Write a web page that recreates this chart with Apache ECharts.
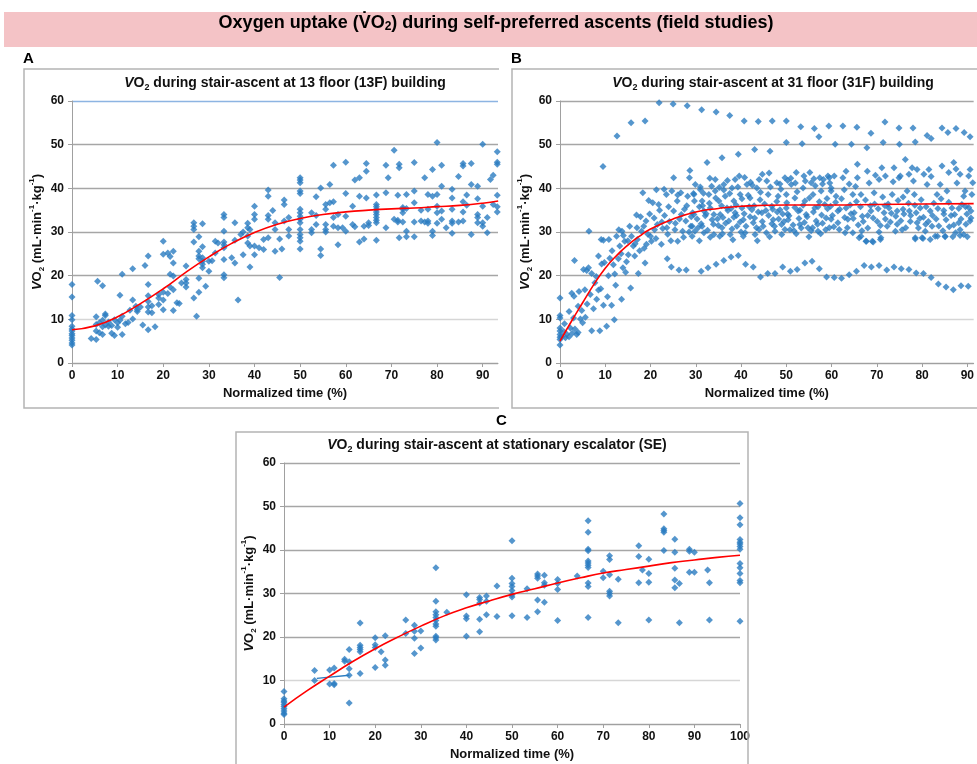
<!DOCTYPE html>
<html><head><meta charset="utf-8">
<script src="https://cdn.jsdelivr.net/npm/echarts@6/dist/echarts.min.js"></script>
<style>html,body{margin:0;padding:0;background:#fff}#c{width:977px;height:764px}</style>
</head><body><div id="c"></div>
<script>
// ---------- data ----------
const yTicks = [0, 10, 20, 30, 40, 50, 60];
const xTitle = 'Normalized time (%)';

// Panel A: 13F building
const ptsA = [
[0,18.0],[0,15.1],[0,10.9],[0,9.9],[0,8.4],[0,7.8],[0,7.3],[0,6.7],[0,6.3],[0,5.7],[0,5.2],[0,4.6],[0,4.1],
[4.2,5.6],[5.3,8.8],[5.3,10.6],[5.3,7.3],[5.3,5.4],[5.6,18.7],[6,9.2],[6,6.9],[6.7,17.7],[6.7,9.8],[6.7,8.3],[6.7,6.5],[7.3,11.2],[7.3,10.9],[7.3,8.7],[8,9.4],[8,8.4],[8.7,6.8],[8.7,8.6],[9.3,6.3],[9.3,9.9],[10,9.2],[10,8.2],[10.5,15.5],[10.5,9.8],[11,20.3],[11,6.5],[11,10.7],[11.7,9.0],[12.3,9.3],[12.7,12.1],[13.3,21.6],[13.3,14.4],[13.3,10.1],[14,13.0],[14.3,12.2],[14.3,11.8],[15,12.8],[15.5,8.7],[16,22.3],[16.7,24.5],[16.7,18.0],[16.7,15.4],[16.7,14.1],[16.7,12.8],[16.7,11.7],[16.7,7.6],[17.5,13.1],[17.5,11.5],[18.2,8.3],[19,15.7],[19,14.9],[19,13.4],[20,27.9],[20,24.9],[20,16.2],[20,14.4],[20,12.2],[21,25.2],[21,15.9],[21.5,24.4],[21.5,20.3],[21.5,17.4],[22.2,25.6],[22.2,22.9],[22.2,19.9],[22.2,16.8],[22.2,12.0],[23,13.8],[23.5,13.6],[24,18.3],[25,22.2],[25,19.1],[25,18.3],[25,17.4],[26.7,32.1],[26.7,31.3],[26.7,30.6],[26.7,27.7],[26.7,14.9],[27.3,10.7],[27.8,28.9],[27.8,25.6],[27.8,24.5],[27.8,23.9],[27.8,19.4],[27.8,16.2],[28.6,31.9],[28.6,26.6],[28.6,24.1],[28.6,23.3],[28.6,22.6],[28.6,21.8],[29.3,17.6],[30,23.3],[30,21.0],[30.7,23.4],[31.4,25.2],[31.4,27.9],[32,27.5],[33.3,34.0],[33.3,33.3],[33.3,30.2],[33.3,27.7],[33.3,27.1],[33.3,26.4],[33.3,23.7],[33.3,20.2],[33.3,19.5],[35,24.1],[35.7,32.1],[35.7,28.1],[35.7,22.9],[36.4,14.4],[37,29.4],[37.5,30.0],[37.5,24.8],[38.5,32.0],[38.5,31.0],[38.5,29.1],[38.5,27.5],[39,30.6],[39,26.8],[39,22.0],[40,35.9],[40,34.0],[40,32.9],[40,26.8],[40,24.8],[41,26.4],[42,28.3],[42,26.0],[43,39.6],[43,38.2],[43,33.8],[43,32.9],[43,28.7],[44,34.9],[44.5,32.1],[44.5,30.6],[44.5,25.6],[45.5,19.6],[45.5,28.4],[46,26.1],[46.5,37.3],[46.5,36.3],[46.5,32.5],[47.5,33.3],[47.5,30.6],[47.5,29.1],
[50,42.4],[50,41.9],[50,41.3],[50,39.4],[50,38.8],[50,35.2],[50,34.4],[50,33.6],[50,32.9],[50,32.1],[50,30.6],[50,29.4],[50,28.7],[50,27.9],[50,26.1],
[52.5,34.4],[52.5,30.6],[52.5,29.8],[53.5,38.1],[53.5,33.8],[53.5,31.7],[54.5,40.1],[54.5,26.1],[54.5,24.6],[55.6,36.3],[55.6,35.2],[55.6,31.7],[55.6,30.6],[55.6,30.0],[56.5,40.9],[56.5,36.7],[57.3,45.3],[57.3,36.9],[57.3,33.3],[57.3,31.3],[58.3,34.0],[58.3,31.0],[58.3,27.1],[59.3,31.0],[60,46.0],[60,38.8],[60,33.6],[60,30.2],[61.5,35.9],[61.5,31.7],[62,41.9],[62,31.2],[63,42.4],[63,38.2],[63,27.7],[64,31.3],[64,28.4],[64.5,45.7],[64.5,43.9],[64.5,37.8],[65,32.1],[65,31.5],
[66.7,38.5],[66.7,36.3],[66.7,35.8],[66.7,35.2],[66.7,34.6],[66.7,34.0],[66.7,33.3],[66.7,32.7],[66.7,32.1],[66.7,28.1],
[68.8,45.3],[68.8,39.0],[68.8,31.0],[69.3,42.4],[70.6,48.7],[70.6,32.9],[71.4,38.4],[71.4,32.7],[71.4,32.3],[71.7,45.5],[71.7,44.7],[71.7,28.7],[72.5,35.6],[72.5,35.2],[72.5,34.4],[72.5,32.3],[73.3,38.6],[73.3,35.4],[73.3,30.2],[73.3,28.9],[75,45.9],[75,39.4],[75,36.7],[75,32.3],[75,28.9],[76.5,35.0],[76.5,32.5],[77.3,42.4],[77.3,32.3],[78,38.6],[78,35.2],[78,32.5],[78,32.0],[79,44.3],[79,38.2],[79,30.2],[79,29.2],[80,50.5],[80,38.6],[80,35.9],[80,34.4],[80,32.0],[81,45.3],[81,40.5],[81,34.8],[81,32.9],[82,31.0],[83.3,39.8],[83.3,37.8],[83.3,35.2],[83.3,32.5],[83.3,32.0],[83.3,29.7],[84.7,42.7],[84.7,32.3],[85.7,45.7],[85.7,45.1],[85.7,36.9],[85.7,34.6],[85.7,32.5],[86.5,38.5],[86.5,36.1],[87.5,45.7],[87.5,40.9],[87.5,29.4],[88.9,40.5],[88.9,37.6],[88.9,34.0],[88.9,33.3],[88.9,32.1],[90,50.1],[90,31.3],[90,32.1],[90,35.9],[91,33.3],[91,29.8],[91.7,42.0],[92.3,43.0],[92.3,36.3],[93.2,48.4],[93.2,46.0],[93.2,45.5],[93.2,38.4],[93.2,35.8],[93.2,34.6]
];
const trendA = [[0,7.6],[5,8.5],[10,10.6],[15,13.6],[20,17.0],[25,20.8],[30,24.3],[35,27.4],[40,29.9],[45,31.8],[50,33.1],[55,34.0],[60,34.6],[65,35.0],[70,35.3],[75,35.5],[80,35.8],[85,36.1],[90,36.6],[93.4,37.1]];

// Panel B: 31F building
const ptsB = [
[0,14.9],[0,10.9],[0,10.3],[0,8.0],[0,7.3],[0,6.5],[0,5.9],[0,5.4],[0,4.1],
[0.4,6.0],[0.8,7.2],[1.2,5.8],[1.5,6.6],[2.0,6.0],[2.3,8.0],[2.6,16.0],[2.7,6.8],[3.1,15.3],[3.2,23.5],[3.3,7.8],[3.7,6.5],[4.0,7.0],[4.2,16.4],[4.5,10.1],[4.8,12.0],[5.2,21.4],[5.6,10.5],[5.9,21.2],[6.3,21.8],[6.4,30.2],[6.7,15.7],[7.0,7.4],[7.4,12.4],[7.7,18.4],[8.1,14.6],[8.5,16.7],[8.8,7.4],[9.1,28.3],[9.2,22.7],[9.5,45.0],[9.6,13.2],[9.6,28.1],[10.3,8.4],[10.7,20.0],[10.8,28.3],[11.4,13.2],[11.5,25.7],[12.0,9.9],[12.1,20.4],[12.5,29.0],[12.6,52.0],[12.9,23.9],[13.2,26.8],[13.6,14.6],[13.7,30.2],[13.9,21.8],[14.3,27.9],[14.7,23.2],[15.1,24.8],[15.4,31.3],[15.6,17.2],[15.7,55.0],[16.2,26.8],[16.5,24.5],[16.9,33.9],[17.1,28.3],[17.3,20.5],[17.6,25.7],[18.0,30.2],[18.3,39.0],[18.5,31.3],[18.8,22.9],[18.8,55.4],[19.1,27.2],[19.4,29.5],[19.8,34.1],[20.2,27.9],[20.5,36.7],[20.9,30.5],[21.3,39.7],[21.5,31.7],[21.8,36.3],[21.9,59.6],[22.4,27.2],[22.7,30.8],[23.1,33.8],[23.5,38.6],[23.7,23.9],[23.8,29.5],[24.2,32.4],[24.6,22.0],[24.7,39.4],[25.0,59.3],[25.1,34.8],[25.1,42.4],[25.4,30.5],[25.9,37.1],[26.0,27.9],[26.3,21.3],[26.4,33.0],[26.7,39.0],[27.1,30.2],[27.5,35.2],[27.8,32.5],[27.9,21.3],[28.1,58.9],[28.2,38.2],[28.6,42.4],[28.7,44.1],[28.9,31.3],[29.3,34.4],[29.7,37.1],[29.8,30.2],
[1.0,9.0],[2.0,11.8],[3.0,10.3],[4.0,13.0],[5.0,9.2],[5.5,16.8],[6.0,13.5],[7.0,20.5],[8.0,19.8],[8.5,24.5],[9.0,17.0],[9.8,23.0],[10.5,15.2],[11.0,24.0],[11.8,22.5],[12.3,17.8],[13.0,30.5],[13.5,25.0],[14.0,29.2],[14.5,20.8],[15.0,28.0],[15.8,29.0],[16.6,27.3],[17.0,31.0],[17.8,33.5],[18.6,26.3],[19.0,32.5],[19.6,37.2],[20.0,29.0],[20.8,33.2],[21.2,28.5],[22.0,35.0],[22.5,32.3],[23.0,39.8],[23.6,31.0],[24.0,35.8],[24.5,28.0],[25.5,32.0],[26.0,38.5],[26.8,34.0],[27.3,28.8],[28.0,36.0],[28.5,30.0],[29.0,33.5],[29.5,38.8],
[29.6,38.6],[29.6,34.0],[29.2,31.3],[29.2,29.0],[29.9,40.9],[31.0,39.7],[31.4,37.1],[31.8,34.8],[31.4,31.3],[31.8,29.8],[32.5,45.9],[32.9,38.6],[33.2,35.5],[33.6,32.8],[34.0,29.4],[34.3,42.0],[34.3,39.4],[35.1,37.1],[35.4,34.0],[35.8,47.0],[35.8,31.0],[36.2,40.9],[36.5,38.2],[36.9,35.5],[37.3,32.5],[37.6,29.4],[38.0,40.1],[38.4,37.1],[38.7,34.4],[39.1,31.3],[39.4,47.8],[39.6,42.8],[39.8,38.6],[40.2,35.5],[40.5,32.8],[40.9,29.8],[41.3,40.9],[42.0,37.8],[42.4,35.1],[42.7,32.1],[43.1,29.4],[43.5,40.1],[44.2,37.4],[44.6,34.4],[44.7,43.2],[44.9,31.3],[45.7,41.7],[46.0,38.6],[46.4,48.5],[46.8,35.9],[47.1,32.8],[47.5,30.2],[47.9,41.3],[48.2,38.2],[48.6,35.1],[48.95,31.7],[49.7,42.4],[50.0,38.6],[50.0,35.5],[50.4,32.8],[50.8,30.5],[51.1,40.9],[51.9,37.8],[52.2,43.6],[52.6,34.8],[53.0,31.7],[53.7,40.1],[54.1,37.1],[54.4,34.0],[54.8,31.0],[55.2,43.6],[55.5,41.3],[55.9,38.6],[56.3,35.5],[56.6,32.5],[57.0,30.2],[57.4,42.4],[57.7,39.4],[58.5,36.3],[58.8,33.2],[59.2,42.8],[59.5,31.0],[59.9,40.1],
[31.3,58.0],[34.5,57.5],[37.5,56.7],[40.7,55.4],[43.8,55.3],[46.9,55.4],[50.0,55.4],[53.2,54.1],[56.2,53.7],[59.4,54.3],[62.5,54.3],[65.6,54.0],[68.7,52.6],[71.8,55.2],[74.9,53.8],[78.0,53.8],[81.1,52.1],[82.0,51.4],[84.4,53.8],[85.7,52.8],[87.5,53.7],[89.3,52.8],[90.6,51.8],
[43.0,48.9],[50.0,50.5],[53.5,50.2],[57.2,51.8],[60.8,50.1],[64.4,50.1],[67.8,49.3],[71.4,50.5],[75.0,50.1],[78.5,50.6],
[31.2,21.0],[32.7,21.8],[34.5,22.6],[36.2,23.5],[37.8,24.3],[39.4,24.6],[41.0,22.6],[42.7,22.0],[44.3,19.7],[45.9,20.5],[47.5,20.5],[49.2,22.0],[50.9,21.0],[52.4,21.4],[54.1,22.9],[55.7,23.3],[57.3,21.6],[58.9,19.7],[60.6,19.6],[62.2,19.4],[63.9,20.2],[65.5,21.0],[67.2,22.3],[68.8,22.0],[70.5,22.3],[72.2,21.3],[73.8,22.0],[75.4,21.6],[77.1,21.4],[78.7,20.6],[80.3,20.5],[82.0,19.6],[83.6,18.1],[85.3,17.4],[86.9,16.8],[88.6,17.7],[90.2,17.6],
[66.5,29.0],[67.7,27.9],[69.2,27.7],[70.8,28.3],[78.5,28.4],[80.2,28.5],[81.8,28.3],[83.4,29.0],[85.1,28.9],[86.8,28.9],[88.4,29.2],[90.0,28.9],
[59.5,42.4],[59.9,39.4],[59.8,35.9],[59.9,32.9],[60.6,42.8],[61.0,38.2],[61.4,34.8],[61.4,32.1],[62.5,42.4],[62.8,39.7],[63.2,43.9],[63.2,35.5],[63.6,32.9],[63.9,41.0],[64.7,29.8],[64.7,38.6],[65.0,34.4],[65.7,45.5],[65.7,42.4],[66.1,28.7],[66.5,38.6],[66.8,33.6],[67.6,27.9],[67.9,43.9],[68.3,41.2],[68.7,34.8],[69.0,27.9],[69.4,39.0],[70.1,32.4],[70.5,42.0],[70.9,28.7],[71.1,44.7],[71.6,34.4],[71.9,42.8],[72.3,31.3],[72.7,35.5],[73.4,38.6],[73.8,44.7],[74.1,30.2],[74.5,34.8],[74.9,42.4],[75.2,42.8],[75.6,30.5],[76.0,34.1],[76.3,46.6],[76.7,39.4],[77.1,43.2],[77.4,32.4],[77.8,44.7],[78.3,38.6],[78.5,28.7],[78.9,44.3],[78.9,32.1],[79.6,35.5],[80.0,28.7],[80.4,43.2],[80.7,30.2],[81.1,40.9],[81.5,44.3],[81.8,34.8],[82.2,31.3],[82.9,29.0],[83.3,38.6],[84.0,40.9],[84.4,45.1],[84.8,34.1],[85.1,29.0],[85.5,39.4],[85.9,43.6],[86.6,35.5],[87.0,45.9],[87.4,29.8],[87.7,41.2],[88.1,32.1],[88.4,43.2],[88.8,36.3],[89.2,29.4],[89.5,39.4],[89.9,34.1],[90.3,42.8],[90.6,44.3],[90.8,34.8],[91.0,38.6],
[30.3,33.0],[30.8,35.8],[31.2,31.9],[31.7,38.9],[32.1,33.7],[32.6,30.4],[33.0,36.6],[33.5,40.5],[33.9,31.8],[34.4,37.8],[34.8,33.0],[35.3,29.0],[35.7,36.0],[36.2,39.6],[36.6,32.0],[37.1,34.9],[37.5,38.8],[38.0,30.7],[38.4,33.4],[38.9,36.2],[39.3,40.3],[39.8,32.3],[40.2,37.6],[40.7,34.2],[41.1,31.3],[41.6,38.4],[42.0,33.5],[42.5,40.7],[42.9,36.0],[43.4,31.0],[43.8,34.6],[44.3,39.1],[44.7,32.4],[45.2,36.4],[45.6,29.8],[46.1,33.8],[46.5,40.3],[47.0,35.2],[47.4,31.3],[47.9,37.0],[48.3,33.0],[48.8,39.8],[49.2,34.1],[49.7,30.6],[50.1,36.7],[50.6,33.7],[51.0,42.3],[51.5,31.6],[51.9,35.6],[52.4,39.2],[52.8,33.1],[53.3,30.9],[53.7,36.1],[54.2,41.7],[54.6,33.5],[55.1,37.8],[55.5,30.3],[56.0,34.6],[56.4,40.6],[56.9,31.8],[57.3,36.9],[57.8,33.9],[58.2,42.0],[58.7,30.5],[59.1,35.3],
[30.5,31.0],[31.5,36.0],[32.3,34.2],[34.0,34.0],[35.0,31.5],[36.0,33.3],[37.8,35.4],[39.0,33.8],[40.0,30.0],[41.8,35.8],[43.0,33.2],[44.0,30.6],[45.5,34.9],[46.8,31.9],[48.0,34.6],[49.5,32.4],[50.3,34.1],[51.7,30.3],[53.0,35.0],[54.0,32.2],[55.8,31.0],[57.0,35.8],[58.0,32.0],[59.0,37.7],
[60.2,33.8],[60.9,36.8],[61.7,30.6],[62.2,37.6],[62.9,33.3],[63.5,31.0],[64.1,36.2],[64.8,33.1],[65.3,40.4],[65.9,31.6],[66.4,35.8],[67.0,32.4],[67.5,37.3],[68.0,30.9],[68.6,36.0],[69.2,33.2],[69.7,43.0],[70.3,35.3],[70.8,31.5],[71.3,38.0],[71.9,33.0],[72.5,36.4],[73.0,32.3],[73.6,41.5],[74.2,33.6],[74.7,37.2],[75.3,32.6],[75.8,35.2],[76.4,31.0],[77.0,36.6],[77.5,33.8],[78.1,41.7],[78.7,34.4],[79.2,30.9],[79.8,37.4],[80.3,33.4],[80.9,35.8],[81.4,32.4],[82.0,42.7],[82.6,36.6],[83.1,33.0],[83.7,31.4],[84.2,37.6],[84.8,34.9],[85.3,32.8],[85.9,36.8],[86.4,33.8],[87.0,31.6],[87.5,44.4],[88.1,35.4],[88.6,33.0],[89.2,38.2],[89.7,31.8],[90.3,35.6],[90.8,33.2],[91.2,41.3],
[60.5,31.2],[61.8,35.2],[63.0,29.8],[64.3,34.2],[65.5,37.0],[66.7,30.3],[68.0,33.8],[69.5,36.4],[70.5,30.0],[71.8,36.0],[73.2,34.3],[74.5,31.8],[75.8,38.0],[77.2,34.8],[78.4,36.1],[79.5,33.1],[80.8,31.8],[82.3,33.8],[83.5,35.4],[84.6,30.3],[86.0,31.2],[87.2,34.0],[88.4,30.5],[89.6,35.8],[90.6,32.5],
[31.0,40.3],[33.1,42.3],[35.2,40.2],[37.0,41.8],[38.7,42.0],[40.8,42.5],[42.1,41.4],[44.0,42.0],[46.2,43.5],[48.6,41.0],[50.3,41.8],[52.0,41.2],[53.9,42.8],[56.1,42.2],[58.0,41.0],[59.6,41.2],
[30.8,28.0],[33.2,28.8],[35.9,29.6],[38.2,28.2],[40.5,29.0],[43.6,28.0],[46.3,28.9],[49.0,29.4],[52.2,29.6],[55.0,28.9],[57.6,29.6]
];
const trendB = [[0,5.0],[2.5,9.5],[5,13.8],[7.5,18.0],[10,21.7],[12.5,24.6],[15,27.0],[17.5,29.0],[20,30.7],[25,33.0],[30,34.6],[35,35.4],[40,35.9],[50,36.2],[60,36.2],[70,36.3],[80,36.4],[91.4,36.5]];

// Panel C: stationary escalator
const ptsC = [
[0,7.5],[0,5.8],[0,5.3],[0,5.0],[0,4.5],[0,4.0],[0,3.5],[0,3.0],[0,2.5],[0,2.2],
[6.7,12.3],[6.7,10.0],[10,12.4],[10,9.2],[11,12.9],[11,9.3],[11,9.0],[13.3,14.9],[13.3,14.4],[14.3,17.1],[14.3,14.3],[14.3,12.7],[14.3,11.2],[14.3,4.8],
[16.7,23.2],[16.7,18.1],[16.7,17.6],[16.7,17.1],[16.7,16.6],[16.7,11.6],[20,19.8],[20,18.2],[20,17.6],[20,13.0],[21.3,16.6],[22.2,20.3],[22.2,14.7],[22.2,13.5],
[26.7,23.9],[26.7,20.8],[28.6,22.7],[28.6,21.3],[28.6,19.7],[28.6,16.2],[30,21.4],[30,17.5],
[33.3,35.9],[33.3,28.2],[33.3,25.8],[33.3,25.1],[33.3,24.5],[33.3,23.8],[33.3,23.0],[33.3,22.5],[33.3,20.2],[33.3,19.8],[33.3,19.3],[35.7,25.7],
[40,29.7],[40,24.8],[40,24.2],[40,20.2],[42.9,29.1],[42.9,28.6],[42.9,27.8],[42.9,24.1],[42.9,21.2],[44.4,29.4],[44.4,28.2],[44.4,25.1],[46.7,31.7],[46.7,24.7],
[50,42.1],[50,33.5],[50,32.3],[50,31.6],[50,30.7],[50,29.7],[50,29.2],[50,24.9],[53.3,31.1],[53.3,24.5],[55.6,34.5],[55.6,34.0],[55.6,33.5],[55.6,28.5],[55.6,25.8],
[57.1,34.2],[57.1,32.5],[57.1,31.9],[57.1,28.0],[60,33.2],[60,32.3],[60,30.9],[60,23.8],[64.3,34.0],
[66.7,46.7],[66.7,44.1],[66.7,40.2],[66.7,39.8],[66.7,37.5],[66.7,37.0],[66.7,36.5],[66.7,36.0],[66.7,32.4],[66.7,31.6],[66.7,24.5],
[70,35.1],[70,33.6],[71.4,38.7],[71.4,37.8],[71.4,34.3],[71.4,30.5],[71.4,30.0],[71.4,29.4],[73.3,33.3],[73.3,23.3],
[77.8,41.0],[77.8,38.5],[77.8,32.5],[78.6,35.4],[80,37.9],[80,34.6],[80,32.6],[80,23.9],
[83.3,48.3],[83.3,44.9],[83.3,44.5],[83.3,44.1],[83.3,39.9],[85.7,42.5],[85.7,39.5],[85.7,35.8],[85.7,33.1],[85.7,31.3],[86.7,32.3],[86.7,23.3],
[88.9,40.2],[88.9,39.7],[88.9,34.9],[90,39.5],[90,34.9],[92.9,35.4],[93.3,32.5],[93.3,23.9],
[100,50.7],[100,47.4],[100,45.8],[100,42.4],[100,41.8],[100,41.4],[100,40.8],[100,40.2],[100,36.9],[100,35.9],[100,34.6],[100,33.0],[100,32.5],[100,23.6]
];
const segC = [[7.2,10.5],[14.3,11.2]];
const trendC = [[0,3.9],[5,7.6],[10,11.0],[15,14.3],[20,17.3],[25,20.0],[30,22.5],[35,24.8],[40,26.7],[45,28.3],[50,29.8],[55,31.1],[60,32.4],[65,33.6],[70,34.7],[75,35.5],[80,36.3],[85,37.1],[90,37.7],[95,38.3],[100,38.8]];

// ---------- chart ----------
const FONT = '"Liberation Sans", Arial, sans-serif';
const BLUE = '#2a7cc0';
function richSet(size) {
  return {
    n: {fontFamily: FONT, fontWeight: 'bold', fontSize: size, color: '#111', lineHeight: size + 5, verticalAlign: 'middle'},
    i: {fontFamily: FONT, fontWeight: 'bold', fontStyle: 'italic', fontSize: size, color: '#111', lineHeight: size + 5, verticalAlign: 'middle'},
    sub: {fontFamily: FONT, fontWeight: 'bold', fontSize: Math.round(size * 0.65), color: '#111', lineHeight: Math.round(size * 0.65), verticalAlign: 'bottom'},
    sup: {fontFamily: FONT, fontWeight: 'bold', fontSize: Math.round(size * 0.6), color: '#111', lineHeight: Math.round(size * 0.65), verticalAlign: 'top'}
  };
}
const richAxis = richSet(13);
const richTitle = richSet(14);
const yName = '{i|V}{n|O}{sub|2}{n| (mL·min}{sup|-1}{n|·kg}{sup|-1}{n|)}';

const grids = [
  {left: 72, top: 101, width: 426, height: 262},
  {left: 560, top: 101, width: 417, height: 262},
  {left: 284, top: 463, width: 456, height: 261}
];
const xMax = [93.36, 91.4, 100];
const gridColors = [
  ['#a6a6a6','#d6d6d6','#a6a6a6','#a6a6a6','#a6a6a6','#a6a6a6','#8db4e2'],
  ['#a6a6a6','#d6d6d6','#a6a6a6','#a6a6a6','#a6a6a6','#a6a6a6','#a6a6a6'],
  ['#a6a6a6','#d6d6d6','#a6a6a6','#a6a6a6','#a6a6a6','#a6a6a6','#a6a6a6']
];

const xAxes = grids.map((g, i) => ({
  gridIndex: i, type: 'value', min: 0, max: xMax[i], interval: 10,
  axisLine: {lineStyle: {color: '#a0a0a0', width: 1}},
  axisTick: {show: true, length: 4, lineStyle: {color: '#a0a0a0'}},
  splitLine: {show: false},
  axisLabel: {color: '#111', fontWeight: 'bold', fontSize: 12, fontFamily: FONT, margin: 7, showMaxLabel: i === 2},
  name: xTitle, nameLocation: 'middle', nameGap: 24,
  nameTextStyle: {color: '#111', fontWeight: 'bold', fontSize: 13, fontFamily: FONT}
}));
const yAxes = grids.map((g, i) => ({
  gridIndex: i, type: 'value', min: yTicks[0], max: yTicks[yTicks.length - 1], interval: yTicks[1] - yTicks[0],
  axisLine: {show: true, lineStyle: {color: '#a0a0a0', width: 1}},
  axisTick: {show: true, length: 4, lineStyle: {color: '#a0a0a0'}},
  splitLine: {show: true, lineStyle: {color: gridColors[i], width: 1.3}},
  axisLabel: {color: '#111', fontWeight: 'bold', fontSize: 12, fontFamily: FONT, margin: 8},
  name: yName, nameLocation: 'middle', nameGap: 26,
  nameTextStyle: {rich: richAxis}
}));

const scatter = (data, i) => ({
  type: 'scatter', xAxisIndex: i, yAxisIndex: i, data: data, symbol: 'diamond', symbolSize: 7,
  itemStyle: {color: BLUE}, silent: true, z: 3
});
const trend = (data, i) => ({
  type: 'line', xAxisIndex: i, yAxisIndex: i, data: data, smooth: true, showSymbol: false, symbol: 'none',
  lineStyle: {color: '#ff0000', width: 1.6}, silent: true, z: 4
});

const panelTitle = (x, y, text) => ({
  type: 'text', x: x, y: y, z: 10,
  style: {text: text, rich: richTitle, align: 'center', verticalAlign: 'middle',
          fontFamily: FONT, fontWeight: 'bold', fontSize: 14, fill: '#111'}
});
const letter = (x, y, t) => ({
  type: 'text', x: x, y: y, z: 10,
  style: {text: t, fontFamily: FONT, fontWeight: 'bold', fontSize: 15, fill: '#000', align: 'left', verticalAlign: 'top'}
});
const box = (pts) => ({
  type: 'polyline', z: 1, shape: {points: pts},
  style: {stroke: '#b4b4b4', lineWidth: 1.5, fill: null}
});

const chart = echarts.init(document.getElementById('c'), null, {renderer: 'canvas'});
chart.setOption({
  animation: false,
  backgroundColor: '#ffffff',
  grid: grids,
  xAxis: xAxes,
  yAxis: yAxes,
  series: [
    scatter(ptsA, 0), trend(trendA, 0),
    scatter(ptsB, 1), trend(trendB, 1),
    scatter(ptsC, 2),
    {type: 'line', xAxisIndex: 2, yAxisIndex: 2, data: segC, showSymbol: false, symbol: 'none',
     lineStyle: {color: BLUE, width: 1.4}, silent: true, z: 3},
    trend(trendC, 2)
  ],
  graphic: [
    {type: 'rect', z: 0, shape: {x: 4, y: 12, width: 973, height: 35}, style: {fill: '#f4c3c6'}},
    {type: 'text', x: 496, y: 23, z: 10,
     style: {text: '{t|Oxygen uptake (V\u0307O}{s|2}{t|) during self-preferred ascents (field studies)}',
             rich: {
               t: {fontFamily: '"Liberation Sans Narrow", "Arial Narrow", ' + FONT, fontWeight: 'bold', fontSize: 18, fill: '#000', lineHeight: 20, verticalAlign: 'middle'},
               s: {fontFamily: '"Liberation Sans Narrow", "Arial Narrow", ' + FONT, fontWeight: 'bold', fontSize: 12, fill: '#000', lineHeight: 12, verticalAlign: 'bottom'}
             },
             align: 'center', verticalAlign: 'middle'}},
    letter(23, 51, 'A'), letter(511, 51, 'B'), letter(496, 413, 'C'),
    box([[499, 69], [24, 69], [24, 408], [499, 408]]),
    box([[977, 69], [512, 69], [512, 408], [977, 408]]),
    box([[236, 770], [236, 432], [748, 432], [748, 770]]),
    panelTitle(285, 83, '{i|V}{n|O}{sub|2}{n| during stair-ascent at 13 floor (13F) building}'),
    panelTitle(773, 83, '{i|V}{n|O}{sub|2}{n| during stair-ascent at 31 floor (31F) building}'),
    panelTitle(497, 445, '{i|V}{n|O}{sub|2}{n| during stair-ascent at stationary escalator (SE)}')
  ]
});
</script></body></html>
